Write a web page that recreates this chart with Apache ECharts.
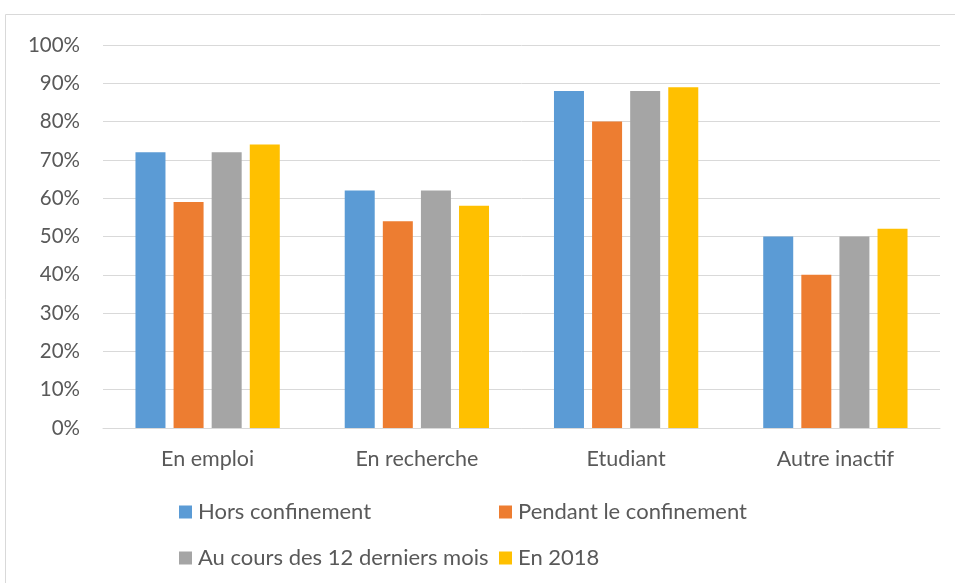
<!DOCTYPE html>
<html>
<head>
<meta charset="utf-8">
<script src="https://cdn.jsdelivr.net/npm/echarts@6/dist/echarts.min.js"></script>
<style>
html,body{margin:0;padding:0;background:#fff;}
#chart{width:955px;height:583px;}
</style>
</head>
<body>
<div id="chart"></div>
<script>
const categories = ['En emploi', 'En recherche', 'Etudiant', 'Autre inactif'];
const seriesNames = ['Hors confinement', 'Pendant le confinement', 'Au cours des 12 derniers mois', 'En 2018'];
const horsConfinement = [72, 62, 88, 50];
const pendantConfinement = [59, 54, 80, 40];
const douzeDerniersMois = [72, 62, 88, 50];
const en2018 = [74, 58, 89, 52];
const yTicks = [0, 10, 20, 30, 40, 50, 60, 70, 80, 90, 100];
const colors = ['#5B9BD5', '#ED7D31', '#A5A5A5', '#FFC000'];

const values = [horsConfinement, pendantConfinement, douzeDerniersMois, en2018];
const FONT = 'Lato';
const textColor = '#595959';

const legendPos = [
  {left: 179, top: 501},
  {left: 499, top: 501},
  {left: 179, top: 547},
  {left: 499, top: 547}
];

const chart = echarts.init(document.getElementById('chart'));
chart.setOption({
  animation: false,
  color: colors,
  graphic: [{
    type: 'rect',
    shape: {x: 5.5, y: 14.5, width: 1000, height: 1000},
    style: {fill: 'none', stroke: '#d9d9d9', lineWidth: 1},
    silent: true
  }],
  grid: {left: 103, right: 15, top: 45, bottom: 155},
  legend: seriesNames.map((n, i) => ({
    data: [n],
    left: legendPos[i].left,
    top: legendPos[i].top,
    icon: 'rect',
    itemWidth: 13,
    itemHeight: 13,
    itemGap: 7,
    textStyle: {fontFamily: FONT, fontSize: 22, color: textColor, padding: [0, 0, 0, 1]},
    padding: 0,
    selectedMode: false
  })),
  xAxis: {
    type: 'category',
    data: categories,
    axisLine: {lineStyle: {color: '#d9d9d9', width: 1}},
    axisTick: {show: false},
    axisLabel: {fontFamily: FONT, fontSize: 21.5, color: textColor, margin: 20}
  },
  yAxis: {
    type: 'value',
    min: yTicks[0],
    max: yTicks[yTicks.length - 1],
    interval: 10,
    axisLine: {show: false},
    axisTick: {show: false},
    splitLine: {lineStyle: {color: '#d9d9d9', width: 1}},
    axisLabel: {fontFamily: FONT, fontSize: 20.5, color: textColor, margin: 23, formatter: v => v + '%'}
  },
  series: seriesNames.map((n, i) => ({
    name: n,
    type: 'bar',
    data: values[i],
    barWidth: 30,
    barGap: '27%',
    itemStyle: {color: colors[i]}
  }))
});
</script>
</body>
</html>
